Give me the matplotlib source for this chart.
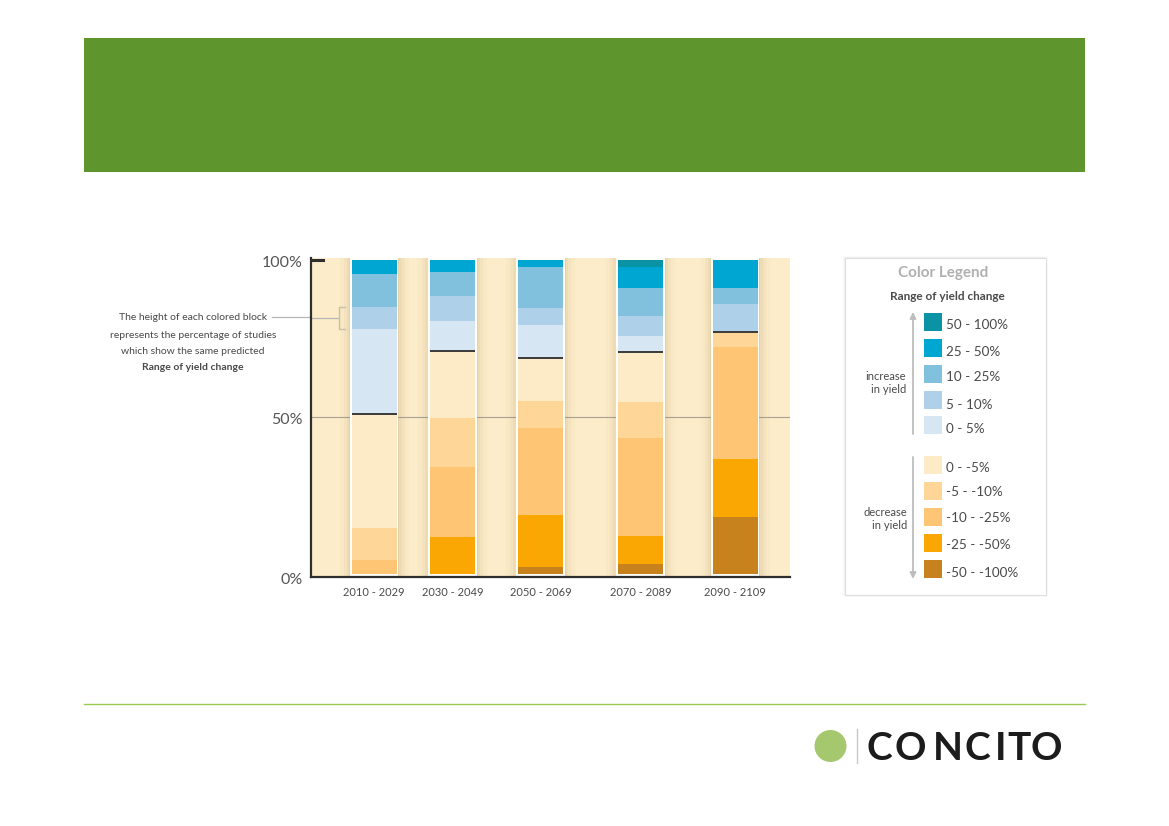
import matplotlib
matplotlib.use("Agg")
from matplotlib import pyplot as plt
from matplotlib.patches import Rectangle, Circle
from matplotlib.transforms import ScaledTranslation

plt.rcParams['font.family'] = ['Lato', 'DejaVu Sans']

periods = ['2010 - 2029', '2030 - 2049', '2050 - 2069', '2070 - 2089', '2090 - 2109']
ranges = ['-50 - -100%', '-25 - -50%', '-10 - -25%', '-5 - -10%', '0 - -5%',
          '0 - 5%', '5 - 10%', '10 - 25%', '25 - 50%', '50 - 100%']

# percentage of studies per period, bottom to top in the order of ranges
share_2010 = [0, 0, 4.5, 10.1, 36.4, 27, 7, 10.5, 4.5, 0]
share_2030 = [0, 11.7, 22.5, 15.6, 21.1, 9.8, 7.9, 7.7, 3.7, 0]
share_2050 = [2.2, 16.6, 27.7, 8.6, 13.6, 10.6, 5.5, 12.9, 2.3, 0]
share_2070 = [3.1, 9, 31.2, 11.6, 15.7, 5.3, 6.3, 8.8, 6.9, 2.1]
share_2090 = [18.2, 18.3, 35.9, 4.8, 0, 0, 8.8, 5, 9, 0]
all_shares = [share_2010, share_2030, share_2050, share_2070, share_2090]

y_ticks = [0, 50, 100]
y_tick_labels = ['0%', '50%', '100%']

range_colors = ['#c7821e', '#fba703', '#fec674', '#fed697', '#fdebc8',
                '#d6e6f2', '#aed0e8', '#81c1de', '#00a6d2', '#0a93a5']

# bars are not evenly spaced in the original, x is in page pixels
bar_x = [374, 452.5, 540.7, 640.5, 735]
bar_width = 45

TEXT = '#4a4a4a'

fig = plt.figure(figsize=(11.69, 8.26), dpi=100)

# page layer, pixel coordinates
page = fig.add_axes([0, 0, 1, 1])
page.set_xlim(0, 1169)
page.set_ylim(826, 0)
page.axis('off')

page.add_patch(Rectangle((84, 38), 1001, 134, color='#5f952d', lw=0))
page.plot([84, 1085], [704, 704], color='#9cc94f', lw=1)

# logo
page.add_patch(Circle((830.5, 746), 16, color='#a5c86f', lw=0))
page.plot([857, 857], [729, 763], color='#c8c8c8', lw=1)
logo_x = [867, 895, 933, 965, 995, 1007, 1031]
for letter, x in zip('CONCITO', logo_x):
    page.text(x, 760, letter, fontsize=28, fontweight='bold', color='#1c1c1c',
              ha='left', va='baseline')

# callout
page.plot([272, 311], [317, 317], color='#b5b5b5', lw=0.9)
callout_lines = ['The height of each colored block', 'represents the percentage of studies',
                 'which show the same predicted']
for line, y in zip(callout_lines, [318, 335, 352]):
    page.text(193, y, line, fontsize=7.5, color=TEXT, ha='center', va='center')
page.text(193, 368, 'Range of yield change', fontsize=7.5, fontweight='bold',
          color=TEXT, ha='center', va='center')

# legend box
for grow, alpha in [(2, 0.04), (1, 0.07)]:
    page.add_patch(Rectangle((845 - grow, 258 - grow), 201 + 2 * grow, 337 + 2 * grow,
                             color='#808080', alpha=alpha, lw=0))
page.add_patch(Rectangle((845, 258), 201, 337, facecolor='white', edgecolor='#dedede', lw=0.8))
page.text(943, 273, 'Color Legend', fontsize=11, fontweight='bold', color='#b0b0b0',
          ha='center', va='center')
page.text(947, 297, 'Range of yield change', fontsize=8.5, fontweight='bold', color=TEXT,
          ha='center', va='center')

swatch_top = [313, 339, 365, 391, 416, 456, 482, 508, 534, 560]
label_y = [325, 352, 377, 405, 429, 468, 492, 518, 545, 573]
legend_order = [9, 8, 7, 6, 5, 4, 3, 2, 1, 0]
for i, top, y in zip(legend_order, swatch_top, label_y):
    page.add_patch(Rectangle((924, top), 18, 18, color=range_colors[i], lw=0))
    page.text(946, y, ranges[i], fontsize=9.7, color=TEXT, ha='left', va='center')

arrow_style = dict(arrowstyle='-|>', color='#bdbdbd', lw=1.3, mutation_scale=9,
                   shrinkA=0, shrinkB=0)
page.annotate('', xy=(913, 312), xytext=(913, 434), arrowprops=arrow_style)
page.annotate('', xy=(913, 579), xytext=(913, 457), arrowprops=arrow_style)
page.text(906, 383, 'increase\nin yield', fontsize=8, color=TEXT, ha='right', va='center',
          linespacing=1.25)
page.text(907, 519, 'decrease\nin yield', fontsize=8, color=TEXT, ha='right', va='center',
          linespacing=1.25)

# chart layer, y in percent, x in page pixels
ax = fig.add_axes([311 / 1169, (826 - 577) / 826, 479 / 1169, 319 / 826])
ax.set_facecolor('#fcecc9')
ax.set_xlim(311, 790)
ax.set_ylim(-0.96, 100.64)

ax.axhline(50, color='#a9a294', lw=0.8, zorder=1)

# soft shadow and white frame behind each column
for grow, alpha in [(24, 0.04), (16, 0.06), (10, 0.08), (5, 0.1)]:
    ax.bar(bar_x, 101.5, width=bar_width + grow, bottom=-1, color='#a88a5a',
           alpha=alpha, lw=0, zorder=2)
ax.bar(bar_x, 101.1, width=bar_width + 3.5, bottom=-0.5, color='#fffdf8', lw=0, zorder=3)

for i in range(len(ranges)):
    heights = [shares[i] for shares in all_shares]
    bottoms = [sum(shares[:i]) for shares in all_shares]
    ax.bar(bar_x, heights, width=bar_width, bottom=bottoms, color=range_colors[i],
           lw=0, zorder=4)

# dark line between decrease and increase
for x, shares in zip(bar_x, all_shares):
    split = sum(shares[:5])
    ax.plot([x - bar_width / 2, x + bar_width / 2], [split, split], color='#3a3a3a',
            lw=1.4, zorder=5, solid_capstyle='butt')

# bracket around the 5 - 10% block of the first column
block_low = sum(share_2010[:6])
block_high = sum(share_2010[:7])
ax.plot([311, 339], [(block_low + block_high) / 2] * 2, color='#b5b5b5', lw=0.9, zorder=5)
ax.plot([345, 339, 339, 345], [block_high, block_high, block_low, block_low],
        color='#cdbfa5', lw=1, zorder=5)

ax.plot([311, 323], [100, 100], color='#2e2e2e', lw=2.2, zorder=6)

for side in ['top', 'right']:
    ax.spines[side].set_visible(False)
for side in ['left', 'bottom']:
    ax.spines[side].set_color('#2e2e2e')
    ax.spines[side].set_linewidth(1.6)
    ax.spines[side].set_zorder(6)

ax.set_yticks(y_ticks, y_tick_labels, fontsize=11.5, color='#555555')
ax.set_xticks(bar_x, periods, fontsize=8, color=TEXT)
ax.tick_params(axis='both', length=0)
ax.tick_params(axis='y', pad=6)
ax.tick_params(axis='x', pad=7)

# the 0% and 50% labels sit a little lower than their ticks
for label, drop in zip(ax.get_yticklabels(), [5, 2, 1]):
    label.set_transform(label.get_transform()
                        + ScaledTranslation(0, -drop / 100, fig.dpi_scale_trans))

fig.savefig('out.png', dpi=100)
